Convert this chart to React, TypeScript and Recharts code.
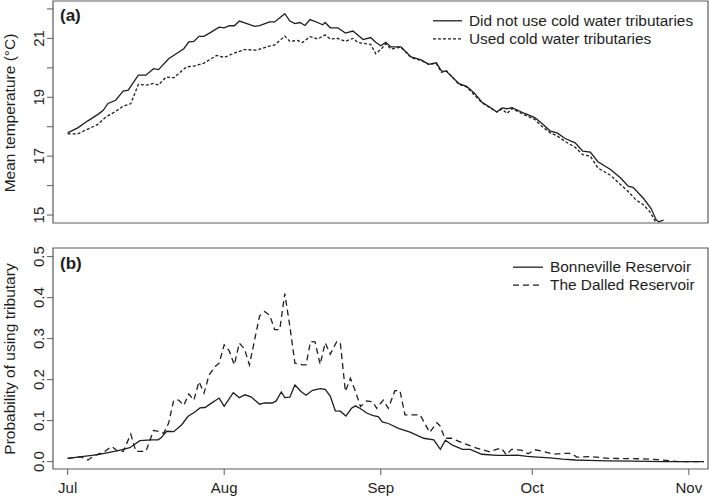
import { LineChart, Line, XAxis, YAxis, Legend, ReferenceArea } from "recharts";

// days since 1 July
const monthTicks = [0, 31, 62, 92, 123];
const monthLabels = ["Jul", "Aug", "Sep", "Oct", "Nov"];
const xDomain = [-2.9, 126.8];

// panel (a): mean temperature (°C)
const tempTicks = [15, 16, 17, 18, 19, 20, 21, 22];
const tempLabelTicks = [15, 17, 19, 21];
const tempDomain = [14.73, 22.27];

const noColdDays = [
  0, 2, 4, 6, 7, 8, 9.5, 11, 12, 14, 15.5, 17, 18, 20, 21.5, 23, 24, 25, 26, 27, 28.5, 30, 31, 32, 33, 34,
  35.5, 37, 38, 40, 41, 43, 44, 45, 46, 47, 48, 49.5, 50.5, 51, 52, 53.5, 55, 56.5, 57.5, 58.5, 60, 61, 62,
  63, 64, 66, 68, 70, 71.5, 73, 74, 75, 77.5, 79, 80.5, 82, 84, 85, 86, 87, 88, 90.5, 92.5, 94, 95.5, 97,
  98.5, 100.5, 102, 103.5, 105, 107.5, 109.5, 111, 112, 114, 115.5, 116.5, 117, 118,
];
const noColdTemp = [
  17.79, 17.96, 18.2, 18.42, 18.55, 18.79, 18.9, 19.21, 19.24, 19.75, 19.75, 19.97, 19.94, 20.31, 20.48,
  20.65, 20.88, 20.9, 21.07, 21.07, 21.22, 21.38, 21.36, 21.43, 21.43, 21.59, 21.5, 21.41, 21.43, 21.56,
  21.56, 21.84, 21.59, 21.5, 21.54, 21.44, 21.64, 21.54, 21.46, 21.54, 21.36, 21.36, 21.18, 21.25, 21.11,
  20.96, 21.03, 20.87, 20.75, 20.87, 20.71, 20.71, 20.37, 20.27, 20.12, 20.17, 19.9, 19.88, 19.46, 19.37,
  19.15, 18.84, 18.62, 18.5, 18.64, 18.61, 18.65, 18.45, 18.31, 18.1, 17.86, 17.78, 17.6, 17.45, 17.17,
  17.14, 16.81, 16.55, 16.26, 15.98, 15.93, 15.57, 15.23, 14.85, 14.77, 14.83,
];

const coldDays = [
  0, 2, 4, 6, 7.5, 9.5, 11, 12.5, 14, 15.5, 17, 18, 19.5, 21, 23.5, 25, 27, 29.5, 31, 33, 35, 37.5, 39.5, 41,
  43, 44, 45.5, 46.5, 48, 49.5, 51, 52, 53.5, 55, 56.5, 57.5, 59, 60, 61, 62, 63, 64, 66, 68, 70, 71.5, 73,
  74, 75, 77.5, 79, 82, 85, 86, 87, 88, 90.5, 92.5, 94, 95.5, 97, 98.5, 100.5, 102, 103.5, 105, 107.5,
  109.5, 111, 112.5, 114, 115.3, 116.5,
];
const coldTemp = [
  17.76, 17.76, 17.92, 18.08, 18.32, 18.52, 18.7, 18.78, 19.44, 19.41, 19.47, 19.42, 19.69, 19.66, 20.03,
  20.06, 20.16, 20.42, 20.35, 20.5, 20.62, 20.6, 20.72, 20.78, 21.08, 20.9, 20.93, 20.86, 21.06, 20.98,
  21.12, 20.98, 21.0, 20.9, 21.0, 20.86, 20.82, 20.8, 20.48, 20.62, 20.82, 20.64, 20.7, 20.35, 20.25,
  20.12, 20.15, 19.85, 19.9, 19.44, 19.35, 18.82, 18.5, 18.6, 18.45, 18.62, 18.4, 18.25, 18.0, 17.8, 17.68,
  17.5, 17.3, 17.05, 17.0, 16.6, 16.35, 16.03, 15.8, 15.52, 15.35, 15.11, 14.75,
];

// panel (b): probability of using tributary
const probTicks = [0, 0.1, 0.2, 0.3, 0.4, 0.5];
const probDomain = [-0.018, 0.521];

const bonnevilleDays = [
  0, 2, 4, 6, 8, 10, 11, 12.3, 14.3, 16.6, 17.9, 18.5, 19.6, 21, 22.6, 23.8, 25.2, 26.2, 27.2, 28.4, 30,
  31, 32.8, 34, 35.1, 36.3, 38, 39, 40.5, 41.3, 42.3, 43, 44, 45, 46.2, 47.2, 48.5, 50, 51, 52, 53, 54,
  55.1, 56.2, 57, 58, 59.3, 60.5, 61.5, 62.3, 63.5, 65.5, 67.8, 70.5, 72.5, 73.8, 74.8, 76.2, 78.2, 79.7,
  82, 85, 87, 89, 91, 93, 95.5, 98, 100.5, 103, 107, 112, 118, 126,
];
const bonnevilleProb = [
  0.008, 0.011, 0.014, 0.017, 0.022, 0.027, 0.03, 0.034, 0.051, 0.053, 0.053, 0.058, 0.074, 0.073, 0.09,
  0.11, 0.121, 0.131, 0.132, 0.142, 0.155, 0.135, 0.168, 0.156, 0.163, 0.158, 0.14, 0.143, 0.143, 0.148,
  0.17, 0.156, 0.157, 0.187, 0.171, 0.162, 0.174, 0.178, 0.176, 0.16, 0.124, 0.123, 0.111, 0.13, 0.136,
  0.129, 0.118, 0.112, 0.11, 0.097, 0.093, 0.081, 0.072, 0.057, 0.053, 0.03, 0.052, 0.04, 0.03, 0.03,
  0.018, 0.015, 0.015, 0.016, 0.013, 0.011, 0.009, 0.006, 0.004, 0.003, 0.002, 0.001, 0, 0,
];

const dallesDays = [
  0, 2.5, 4, 5.5, 7, 8.7, 10, 11, 12.5, 13.5, 15.5, 17, 18.3, 19, 20, 21, 22, 23, 24, 25, 26, 27, 28, 29.2,
  30, 31, 32, 33, 34, 35, 36, 38, 39, 40, 41, 42, 43, 44, 45, 46.5, 47.2, 48.1, 49, 50, 51, 52, 53.3, 54,
  55, 56, 57, 58, 59.2, 60.4, 61.2, 62.5, 63.5, 64.8, 65.8, 66.8, 69.8, 71.7, 73.1, 73.7, 74.7, 76, 78.3,
  81, 83.6, 84.9, 85.9, 86.9, 87.9, 89.8, 91.2, 92.5, 94.2, 96.2, 98, 99.8, 100.8, 103.4, 105.4, 107, 113,
  117, 121, 126,
];
const dallesProb = [
  0.008, 0.012, 0.004, 0.016, 0.022, 0.037, 0.025, 0.025, 0.067, 0.025, 0.025, 0.076, 0.073, 0.069, 0.094,
  0.15, 0.15, 0.137, 0.165, 0.15, 0.195, 0.167, 0.211, 0.232, 0.24, 0.285, 0.27, 0.236, 0.289, 0.275, 0.236,
  0.355, 0.366, 0.357, 0.322, 0.322, 0.41, 0.33, 0.24, 0.236, 0.236, 0.293, 0.292, 0.237, 0.29, 0.262,
  0.293, 0.289, 0.171, 0.203, 0.171, 0.134, 0.148, 0.146, 0.13, 0.15, 0.13, 0.173, 0.173, 0.114, 0.114,
  0.071, 0.095, 0.088, 0.057, 0.057, 0.045, 0.033, 0.024, 0.03, 0.033, 0.016, 0.03, 0.028, 0.019, 0.029,
  0.025, 0.018, 0.02, 0.02, 0.011, 0.012, 0.01, 0.008, 0.007, 0.005, 0, 0,
];

const zip = (days: number[], vals: number[]) => days.map((d, i) => ({ day: d, v: vals[i] }));

const FONT = "'Liberation Sans', Arial, Helvetica, sans-serif";
const INK = "#1e1e1e";
const FRAME = "#5a5a5a";

const YTick = (props: any) => {
  const { x, y, payload, labels, fmt } = props;
  if (labels && !labels.includes(payload.value)) return null;
  const txt = fmt ? fmt(payload.value) : String(payload.value);
  return (
    <text x={x} y={y} transform={`rotate(-90 ${x} ${y})`} textAnchor="middle" fontSize={15} fontFamily={FONT} fill={INK}>
      {txt}
    </text>
  );
};

const XTick = (props: any) => {
  const { x, y, payload } = props;
  const i = monthTicks.indexOf(payload.value);
  return (
    <text x={x} y={y + 16} textAnchor="middle" fontSize={15} fontFamily={FONT} fill={INK}>
      {monthLabels[i]}
    </text>
  );
};

const Titles = ({ title, tag, cy, tagY }: any) => (
  <g>
    <text x={15} y={cy} transform={`rotate(-90 15 ${cy})`} textAnchor="middle" fontSize={15.5} fontFamily={FONT} fill={INK}>
      {title}
    </text>
    <text x={60} y={tagY} fontSize={17} fontWeight="bold" fontFamily={FONT} fill={INK}>
      {tag}
    </text>
  </g>
);

const LegendBox = ({ items, sample, gap, lineH }: any) => (
  <div style={{ fontFamily: FONT, fontSize: 15.4, color: INK, lineHeight: `${lineH}px` }}>
    {items.map((it: any) => (
      <div key={it.name} style={{ display: "flex", alignItems: "center", height: lineH }}>
        <svg width={sample} height={lineH} style={{ marginRight: gap }}>
          <line x1={0} x2={sample} y1={lineH / 2} y2={lineH / 2} stroke={INK} strokeWidth={1.3} strokeDasharray={it.dash} />
        </svg>
        <span>{it.name}</span>
      </div>
    ))}
  </div>
);

const topItems = [
  { name: "Did not use cold water tributaries", dash: undefined },
  { name: "Used cold water tributaries", dash: "3 2" },
];
const bottomItems = [
  { name: "Bonneville Reservoir", dash: undefined },
  { name: "The Dalled Reservoir", dash: "6 4" },
];

export default function App() {
  return (
    <div style={{ position: "absolute", left: 0, top: 0, width: 709, height: 497, background: "#fff" }}>
      <LineChart width={709} height={240} margin={{ top: 1, right: 1, left: 0, bottom: 17 }}>
        <XAxis dataKey="day" type="number" domain={xDomain} ticks={monthTicks} hide allowDataOverflow />
        <YAxis
          type="number"
          domain={tempDomain}
          ticks={tempTicks}
          width={53}
          axisLine={false}
          tickSize={6}
          tickMargin={3}
          tickLine={{ stroke: FRAME }}
          tick={<YTick labels={tempLabelTicks} />}
          label={<Titles title="Mean  temperature  (°C)" tag="(a)" cy={113} tagY={21} />}
          allowDataOverflow
        />
        <ReferenceArea x1={xDomain[0]} x2={xDomain[1]} y1={tempDomain[0]} y2={tempDomain[1]} fill="none" stroke={FRAME} strokeWidth={1.2} />
        <Line data={zip(noColdDays, noColdTemp)} dataKey="v" name="Did not use cold water tributaries" type="linear" stroke={INK} strokeWidth={1.3} dot={false} isAnimationActive={false} />
        <Line data={zip(coldDays, coldTemp)} dataKey="v" name="Used cold water tributaries" type="linear" stroke={INK} strokeWidth={1.3} strokeDasharray="3 2" dot={false} isAnimationActive={false} />
        <Legend
          layout="vertical"
          align="center"
          verticalAlign="middle"
          content={() => <LegendBox items={topItems} sample={29} gap={7} lineH={17.6} />}
          wrapperStyle={{ position: "absolute", left: 433, top: 12, width: "auto" }}
        />
      </LineChart>
      <LineChart width={709} height={257} margin={{ top: 8, right: 1, left: 0, bottom: 0 }}>
        <XAxis
          dataKey="day"
          type="number"
          domain={xDomain}
          ticks={monthTicks}
          height={28}
          axisLine={false}
          tickSize={6}
          tickMargin={2}
          tickLine={{ stroke: FRAME }}
          tick={<XTick />}
          allowDataOverflow
        />
        <YAxis
          type="number"
          domain={probDomain}
          ticks={probTicks}
          width={53}
          axisLine={false}
          tickSize={6}
          tickMargin={3}
          tickLine={{ stroke: FRAME }}
          tick={<YTick fmt={(v: number) => v.toFixed(1)} />}
          label={<Titles title="Probability of using tributary" tag="(b)" cy={119} tagY={29} />}
          allowDataOverflow
        />
        <ReferenceArea x1={xDomain[0]} x2={xDomain[1]} y1={probDomain[0]} y2={probDomain[1]} fill="none" stroke={FRAME} strokeWidth={1.2} />
        <Line data={zip(bonnevilleDays, bonnevilleProb)} dataKey="v" name="Bonneville Reservoir" type="linear" stroke={INK} strokeWidth={1.3} dot={false} isAnimationActive={false} />
        <Line data={zip(dallesDays, dallesProb)} dataKey="v" name="The Dalled Reservoir" type="linear" stroke={INK} strokeWidth={1.3} strokeDasharray="6 4" dot={false} isAnimationActive={false} />
        <Legend
          layout="vertical"
          align="center"
          verticalAlign="middle"
          content={() => <LegendBox items={bottomItems} sample={30} gap={7} lineH={18.3} />}
          wrapperStyle={{ position: "absolute", left: 513, top: 17.5, width: "auto" }}
        />
      </LineChart>
    </div>
  );
}
